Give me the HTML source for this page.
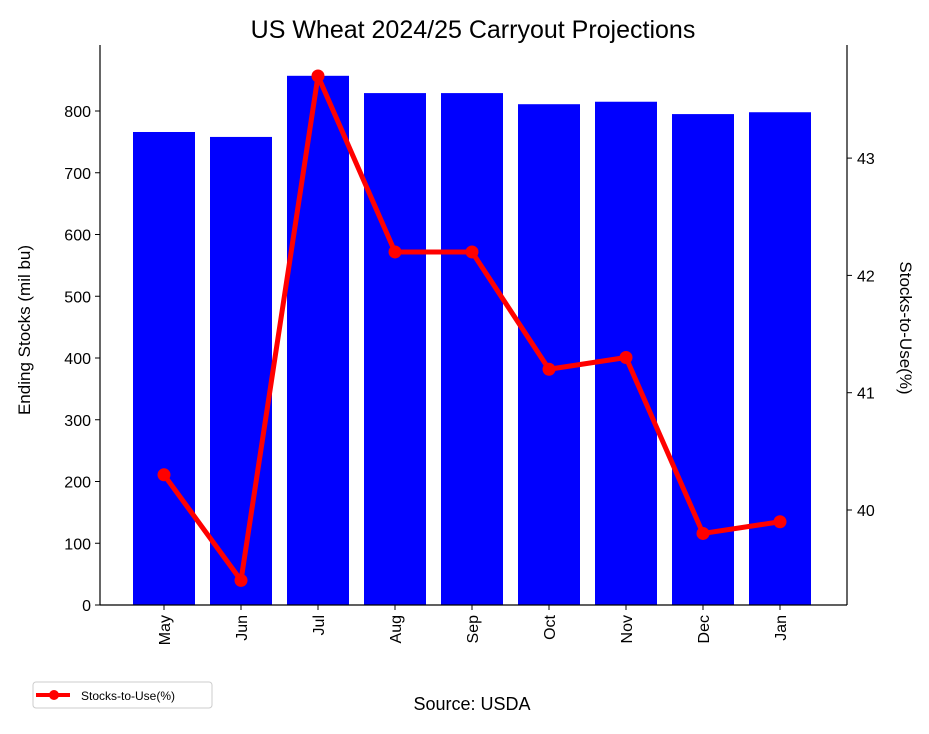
<!DOCTYPE html>
<html><head><meta charset="utf-8"><style>
body{margin:0;background:#fff;}
svg text{font-family:"Liberation Sans","DejaVu Sans",sans-serif;fill:#000;}
</style></head><body>
<svg id="chart" width="929" height="729" xmlns="http://www.w3.org/2000/svg">
<rect width="929" height="729" fill="#fff"/>
<text x="473" y="38" font-size="25" text-anchor="middle">US Wheat 2024/25 Carryout Projections</text>
<g id="bars"></g>
<g id="line"></g>
<g id="axes"></g>
<text transform="translate(30,330) rotate(-90)" font-size="17" text-anchor="middle">Ending Stocks (mil bu)</text>
<text transform="translate(900,328) rotate(90)" font-size="17" text-anchor="middle">Stocks-to-Use(%)</text>
<text x="472" y="710" font-size="18" text-anchor="middle">Source: USDA</text>
<g>
<rect x="33" y="682" width="179" height="26" rx="3" fill="#fff" stroke="#ccc"/>
<line x1="36" y1="695" x2="70" y2="695" stroke="red" stroke-width="4"/>
<circle cx="54" cy="695" r="5" fill="red"/>
<text x="81" y="700" font-size="12">Stocks-to-Use(%)</text>
</g>
</svg>
<script>
const categories=["May","Jun","Jul","Aug","Sep","Oct","Nov","Dec","Jan"];
const endingStocks=[766,758,857,829,829,811,815,795,798];
const stocksToUse=[40.3,39.4,43.7,42.2,42.2,41.2,41.3,39.8,39.9];
const leftTicks=[0,100,200,300,400,500,600,700,800];
const rightTicks=[40,41,42,43];
const NS="http://www.w3.org/2000/svg";
const L=100,R=847,T=45,B=605;
const x0=164,step=77,bw=62;
function xPos(i){return x0+i*step;}
function yLeft(v){return B-v*0.6175;}
function yRight(v){return 510-(v-40)*117.3;}
function mk(tag,attrs,parent){const e=document.createElementNS(NS,tag);for(const k in attrs)e.setAttribute(k,attrs[k]);parent.appendChild(e);return e;}
const gb=document.getElementById('bars'),gl=document.getElementById('line'),ga=document.getElementById('axes');
endingStocks.forEach((v,i)=>{
 const r=mk('rect',{x:xPos(i)-bw/2,y:yLeft(v),width:bw,height:B-yLeft(v),fill:'#0000ff'},gb);
 
 
});
const pts=stocksToUse.map((v,i)=>xPos(i)+','+yRight(v)).join(' ');
const pl=mk('polyline',{points:pts,fill:'none',stroke:'red','stroke-width':5,'stroke-linejoin':'round'},gl);


stocksToUse.forEach((v,i)=>{
 const c=mk('circle',{cx:xPos(i),cy:yRight(v),r:6.5,fill:'red'},gl);
 
 
});
mk('line',{x1:L,y1:T,x2:L,y2:B,stroke:'#000','stroke-width':1.2},ga);
mk('line',{x1:R,y1:T,x2:R,y2:B,stroke:'#000','stroke-width':1.2},ga);
mk('line',{x1:L,y1:B,x2:R,y2:B,stroke:'#000','stroke-width':1.2},ga);
leftTicks.forEach(v=>{
 const y=yLeft(v);
 mk('line',{x1:L-5,y1:y,x2:L,y2:y,stroke:'#000'},ga);
 const t=mk('text',{x:L-9,y:y+6,'font-size':16,'text-anchor':'end'},ga);t.textContent=v;
 
 
});
rightTicks.forEach(v=>{
 const y=yRight(v);
 mk('line',{x1:R,y1:y,x2:R+5,y2:y,stroke:'#000'},ga);
 const t=mk('text',{x:R+10,y:y+6,'font-size':16},ga);t.textContent=v;
 
 
});
categories.forEach((c,i)=>{
 const x=xPos(i);
 mk('line',{x1:x,y1:B,x2:x,y2:B+5,stroke:'#000'},ga);
 const t=mk('text',{transform:`translate(${x+6},${B+10}) rotate(-90)`,'font-size':16,'text-anchor':'end'},ga);t.textContent=c;
 
 
});
</script>
</body></html>
